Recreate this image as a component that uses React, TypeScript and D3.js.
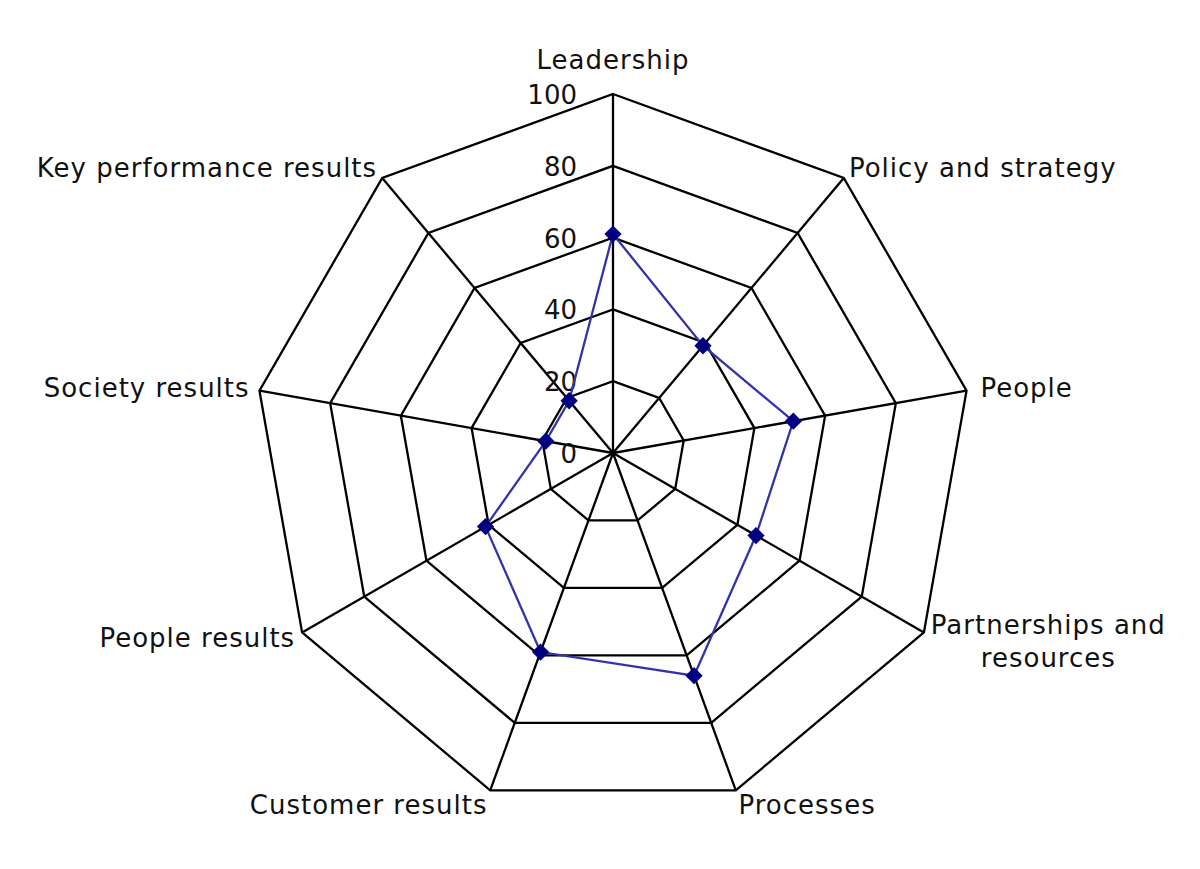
import React, { useEffect, useRef } from "react";
import * as d3 from "d3";

// axis names, clockwise from the top
const axes = [
  "Leadership",
  "Policy and strategy",
  "People",
  "Partnerships and|resources",
  "Processes",
  "Customer results",
  "People results",
  "Society results",
  "Key performance results",
];
const scores = [61, 39, 51, 46, 66, 59, 41, 19, 19];
const ticks = [0, 20, 40, 60, 80, 100];

const W = 1200;
const H = 869;
const cx = 613;
const cy = 453;
const R = 359;
const font = "'DejaVu Sans', Verdana, sans-serif";

export default function App() {
  const ref = useRef<SVGSVGElement>(null);

  useEffect(() => {
    document.body.style.margin = "0";
    const svg = d3.select(ref.current);
    svg.selectAll("*").remove();

    const r = d3.scaleLinear().domain([0, 100]).range([0, R]);
    const angle = d3
      .scaleLinear()
      .domain([0, axes.length])
      .range([0, 2 * Math.PI]);
    const pt = (i: number, v: number): [number, number] => {
      const a = angle(i);
      return [cx + r(v) * Math.sin(a), cy - r(v) * Math.cos(a)];
    };

    const grid = svg.append("g").attr("fill", "none").attr("stroke", "#000").attr("stroke-width", 2.3);

    // rings
    ticks.slice(1).forEach((t) => {
      grid
        .append("path")
        .attr("d", d3.line()(axes.map((_, i) => pt(i, t))) + "Z")
        .attr("stroke-linejoin", "miter");
    });
    // spokes
    axes.forEach((_, i) => {
      const [x, y] = pt(i, 100);
      grid.append("line").attr("x1", cx).attr("y1", cy).attr("x2", x).attr("y2", y);
    });

    // tick labels
    svg
      .append("g")
      .selectAll("text")
      .data(ticks)
      .join("text")
      .attr("x", cx - 36)
      .attr("y", (d) => cy - r(d) + 10)
      .attr("text-anchor", "end")
      .attr("font-family", font)
      .attr("font-size", 26)
      .attr("fill", "#111")
      .text((d) => d);

    // axis labels
    const lab = svg.append("g").attr("font-family", font).attr("font-size", 26).attr("fill", "#111").attr("letter-spacing", 1);
    axes.forEach((name, i) => {
      const a = angle(i);
      const s = Math.sin(a);
      const c = Math.cos(a);
      const lines = name.split("|");
      let [x, y] = pt(i, 100 + 8 / R * 100);
      let base: number;
      if (c > 0.95) base = cy - R - 25;
      else if (c < -0.9) base = cy - R * c + 24;
      else base = y + 8 - 4 * c - ((lines.length - 1) * 33) / 2 + (lines.length > 1 ? 4 : 0);
      if (s > 0.1) x += s > 0.9 ? 6 : 0;
      if (s < -0.1) x -= s < -0.9 ? 2 : 0;
      const t = lab.append("text").attr("text-anchor", "middle").attr("x", 0).attr("y", base);
      lines.forEach((l, k) => {
        t.append("tspan").attr("x", 0).attr("y", base + k * 33).text(l);
      });
      const bb = (t.node() as SVGTextElement).getBBox();
      let shift: number;
      if (s > 0.1) shift = x - bb.x;
      else if (s < -0.1) shift = x - (bb.x + bb.width);
      else shift = x;
      t.attr("transform", `translate(${shift},0)`);
    });

    // series
    const pts = scores.map((v, i) => pt(i, v));
    svg
      .append("path")
      .attr("d", d3.line()(pts) + "Z")
      .attr("fill", "none")
      .attr("stroke", "#3434a8")
      .attr("stroke-width", 2.3);
    svg
      .append("g")
      .selectAll("path")
      .data(pts)
      .join("path")
      .attr("d", d3.symbol(d3.symbolDiamond2, 190)())
      .attr("transform", (d) => `translate(${d[0]},${d[1]})`)
      .attr("fill", "#000080");
  }, []);

  return <svg ref={ref} width={W} height={H} style={{ display: "block", background: "#fff" }} />;
}
